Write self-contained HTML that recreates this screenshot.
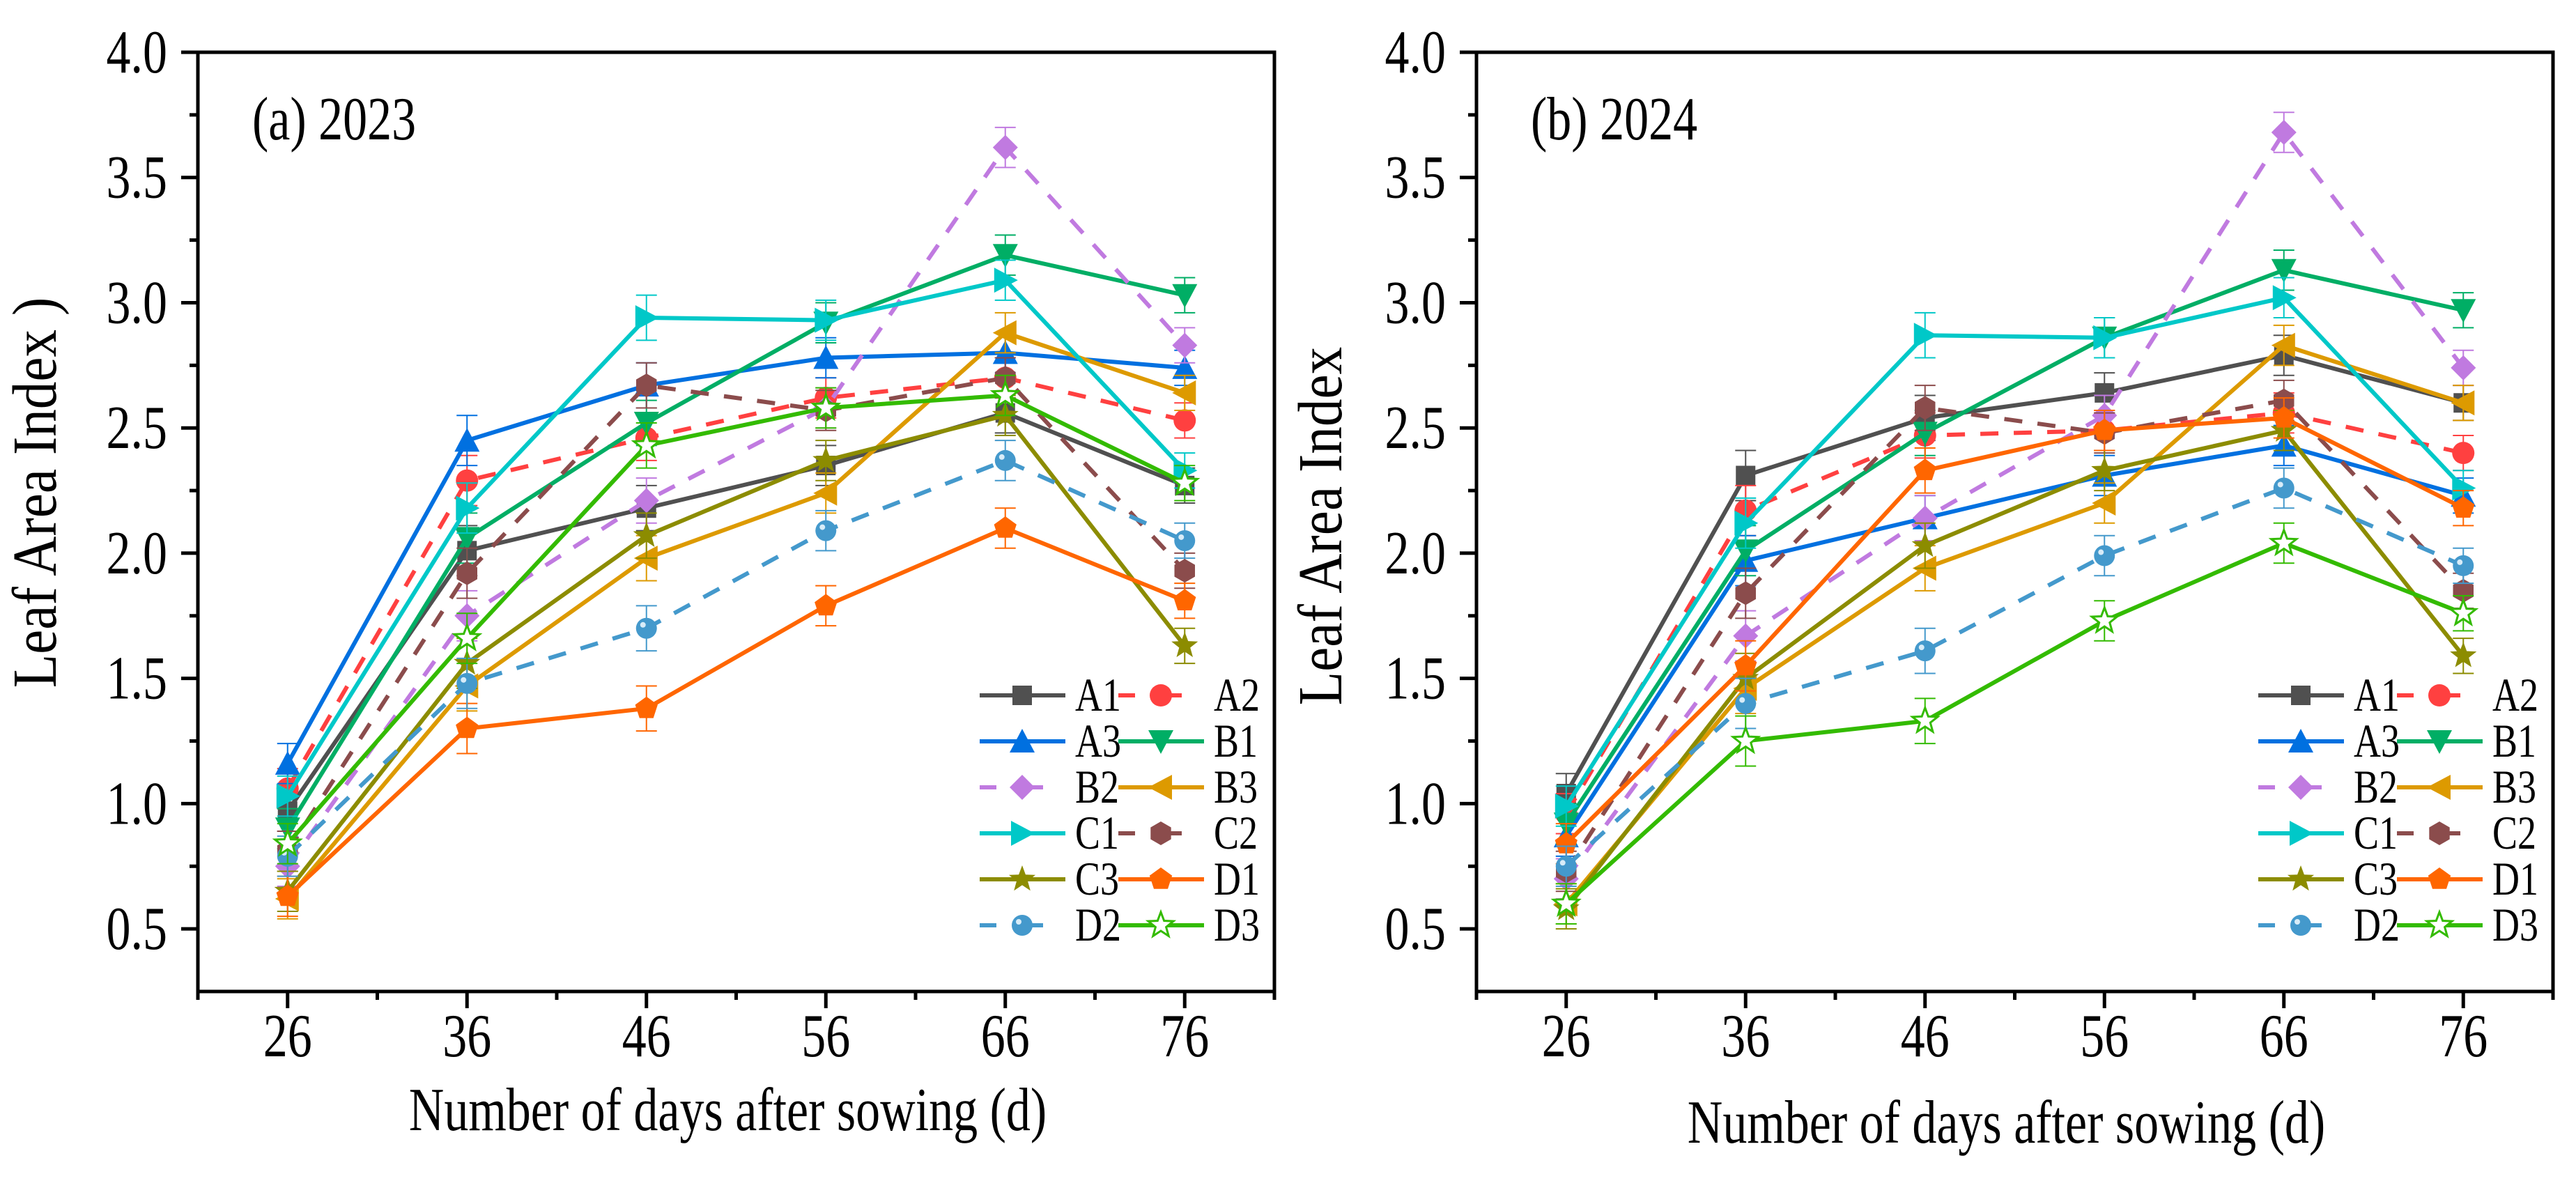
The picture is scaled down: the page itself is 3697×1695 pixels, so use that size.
<!DOCTYPE html>
<html><head><meta charset="utf-8"><style>
html,body{margin:0;padding:0;background:#fff;}
svg{display:block;font-family:"Liberation Serif",serif;}
</style></head><body>
<svg id="chart" width="3697" height="1695" viewBox="0 0 3697 1695" xmlns="http://www.w3.org/2000/svg"></svg>
<script>
const days = [26, 36, 46, 56, 66, 76];
const xTicks = [26, 36, 46, 56, 66, 76];
const yTicks = [0.5, 1.0, 1.5, 2.0, 2.5, 3.0, 3.5, 4.0];
const seriesNames = ["A1","A2","A3","B1","B2","B3","C1","C2","C3","D1","D2","D3"];
// 2023 values
const a_A1 = [0.97, 2.01, 2.18, 2.35, 2.56, 2.27];
const a_A2 = [1.06, 2.29, 2.46, 2.62, 2.70, 2.53];
const a_A3 = [1.16, 2.45, 2.67, 2.78, 2.80, 2.74];
const a_B1 = [0.90, 2.06, 2.52, 2.92, 3.19, 3.03];
const a_B2 = [0.75, 1.75, 2.21, 2.58, 3.62, 2.83];
const a_B3 = [0.62, 1.47, 1.98, 2.24, 2.88, 2.64];
const a_C1 = [1.03, 2.18, 2.94, 2.93, 3.09, 2.33];
const a_C2 = [0.81, 1.92, 2.67, 2.57, 2.70, 1.93];
const a_C3 = [0.65, 1.56, 2.07, 2.37, 2.55, 1.63];
const a_D1 = [0.63, 1.30, 1.38, 1.79, 2.10, 1.81];
const a_D2 = [0.79, 1.48, 1.70, 2.09, 2.37, 2.05];
const a_D3 = [0.84, 1.66, 2.43, 2.58, 2.63, 2.28];
// 2024 values
const b_A1 = [1.04, 2.31, 2.54, 2.64, 2.79, 2.60];
const b_A2 = [0.96, 2.17, 2.47, 2.49, 2.56, 2.40];
const b_A3 = [0.87, 1.97, 2.14, 2.31, 2.43, 2.23];
const b_B1 = [0.92, 2.01, 2.48, 2.86, 3.13, 2.97];
const b_B2 = [0.70, 1.67, 2.14, 2.55, 3.68, 2.74];
const b_B3 = [0.60, 1.46, 1.94, 2.20, 2.83, 2.60];
const b_C1 = [0.99, 2.12, 2.87, 2.86, 3.02, 2.26];
const b_C2 = [0.73, 1.84, 2.58, 2.48, 2.61, 1.85];
const b_C3 = [0.58, 1.50, 2.03, 2.33, 2.49, 1.59];
const b_D1 = [0.84, 1.55, 2.33, 2.49, 2.54, 2.18];
const b_D2 = [0.75, 1.40, 1.61, 1.99, 2.26, 1.95];
const b_D3 = [0.60, 1.25, 1.33, 1.73, 2.04, 1.76];
const errs = [0.08, 0.1, 0.09, 0.08, 0.08, 0.07];

const data2023 = [a_A1,a_A2,a_A3,a_B1,a_B2,a_B3,a_C1,a_C2,a_C3,a_D1,a_D2,a_D3];
const data2024 = [b_A1,b_A2,b_A3,b_B1,b_B2,b_B3,b_C1,b_C2,b_C3,b_D1,b_D2,b_D3];

const styles = [
 {c:"#505050",d:false,m:"square"},{c:"#ff4040",d:true,m:"circle"},
 {c:"#0070e0",d:false,m:"up"},{c:"#00ae65",d:false,m:"down"},
 {c:"#c07ae0",d:true,m:"diamond"},{c:"#dd9a00",d:false,m:"left"},
 {c:"#00c8c8",d:false,m:"right"},{c:"#8b4c4c",d:true,m:"hex"},
 {c:"#8c8c00",d:false,m:"star"},{c:"#ff6600",d:false,m:"pent"},
 {c:"#4499cc",d:true,m:"ball"},{c:"#33bb00",d:false,m:"hstar"}];

const NS="http://www.w3.org/2000/svg";
const svg=document.getElementById('chart');
const SY=1.25;
function mk(tag,attrs,parent){const e=document.createElementNS(NS,tag);for(const k in attrs)e.setAttribute(k,attrs[k]);(parent||svg).appendChild(e);return e;}
function txt(parent,x,y,size,anchor,str){
  const t=mk('text',{x:0,y:0,'font-size':size,'text-anchor':anchor,transform:`translate(${x},${y}) scale(1,${SY})`},parent);
  t.textContent=str;return t;
}

function poly(n,r,rot){let p=[];for(let i=0;i<n;i++){const a=rot+i*2*Math.PI/n;p.push([Math.cos(a)*r,Math.sin(a)*r]);}return p;}
function starPts(r){let p=[];for(let i=0;i<10;i++){const a=-Math.PI/2+i*Math.PI/5;const rr=i%2?r*0.42:r;p.push([Math.cos(a)*rr,Math.sin(a)*rr]);}return p;}
function ptsStr(p,x,y){return p.map(q=>(x+q[0]).toFixed(1)+","+(y+q[1]).toFixed(1)).join(" ");}

function marker(g,type,c,x,y){
  const s=16;
  switch(type){
    case "square": return mk('rect',{x:x-s+2,y:y-s+2,width:2*s-4,height:2*s-4,fill:c},g);
    case "circle": return mk('circle',{cx:x,cy:y,r:s,fill:c},g);
    case "ball": {const e=mk('circle',{cx:x,cy:y,r:s-1,fill:c},g);mk('circle',{cx:x-5,cy:y-5,r:4,fill:"#d8ecf8"},g);return e;}
    case "up": return mk('polygon',{points:ptsStr([[0,-s-2],[s+2,s],[-s-2,s]],x,y),fill:c},g);
    case "down": return mk('polygon',{points:ptsStr([[0,s+2],[s+2,-s],[-s-2,-s]],x,y),fill:c},g);
    case "left": return mk('polygon',{points:ptsStr([[-s-2,0],[s,-s-2],[s,s+2]],x,y),fill:c},g);
    case "right": return mk('polygon',{points:ptsStr([[s+2,0],[-s,-s-2],[-s,s+2]],x,y),fill:c},g);
    case "diamond": return mk('polygon',{points:ptsStr([[0,-s-2],[s+2,0],[0,s+2],[-s-2,0]],x,y),fill:c},g);
    case "hex": return mk('polygon',{points:ptsStr(poly(6,s+1,-Math.PI/2),x,y),fill:c},g);
    case "pent": return mk('polygon',{points:ptsStr(poly(5,s+1,-Math.PI/2),x,y),fill:c},g);
    case "star": return mk('polygon',{points:ptsStr(starPts(s+4),x,y),fill:c},g);
    case "hstar": return mk('polygon',{points:ptsStr(starPts(s+3),x,y),fill:"#fff",stroke:c,'stroke-width':3},g);
  }
}

function panel(ox, data, tag, ylabel, ylabelX, ylabelY, xtitleY){
  const L=ox, R=ox+1545, T=75, B=1423;
  const xs=d=>L+(d-21)*(R-L)/60;
  const ys=v=>B-(v-0.25)*(B-T)/3.75;
  const g=mk('g',{});
  
  
  data.forEach((vals,si)=>{
    const st=styles[si];
    const sg=mk('g',{},g);
    
    
    vals.forEach((v,i)=>{
      const x=xs(days[i]), e=errs[i];
      const eb=mk('path',{d:`M${x},${ys(v+e)}V${ys(v-e)}M${x-15},${ys(v+e)}H${x+15}M${x-15},${ys(v-e)}H${x+15}`,stroke:st.c,'stroke-width':2,fill:'none'},sg);
      
      
    });
    const line=mk('polyline',{points:vals.map((v,i)=>xs(days[i])+","+ys(v)).join(" "),fill:'none',stroke:st.c,'stroke-width':6,'stroke-linejoin':'round'},sg);
    if(st.d) line.setAttribute('stroke-dasharray','26 22');
    
    
    vals.forEach((v,i)=>{
      const m=marker(sg,st.m,st.c,xs(days[i]),ys(v));
      
      
    });
  });
  const fr=mk('rect',{x:L,y:T,width:R-L,height:B-T,fill:'none',stroke:'#000','stroke-width':5},g);
  
  
  xTicks.forEach(t=>{
    const x=xs(t);
    mk('line',{x1:x,y1:B,x2:x,y2:B+24,stroke:'#000','stroke-width':5},g);
    const tx=txt(g,x,1516,70,'middle',String(t));
    
    
  });
  for(let t=21;t<=81;t+=10){const x=xs(t);mk('line',{x1:x,y1:B,x2:x,y2:B+12,stroke:'#000','stroke-width':5},g);}
  yTicks.forEach(t=>{
    const y=ys(t);
    mk('line',{x1:L-24,y1:y,x2:L,y2:y,stroke:'#000','stroke-width':5},g);
    const tx=txt(g,L-44,y+29,70,'end',t.toFixed(1));
    
    
  });
  for(let t=0.75;t<4;t+=0.5){const y=ys(t);mk('line',{x1:L-12,y1:y,x2:L,y2:y,stroke:'#000','stroke-width':5},g);}
  const xt=txt(g,(L+R)/2-12,xtitleY,70,'middle','Number of days after sowing (d)');
  
  
  const yt=mk('text',{x:0,y:0,'font-size':72,'text-anchor':'middle',transform:`translate(${ylabelX},${ylabelY}) rotate(-90) scale(1.1,1.25)`},g);
  yt.textContent=ylabel;
  
  
  const pl=txt(g,L+78,200,70,'start',tag==='2023'?'(a) 2023':'(b) 2024');
  
  
  const lg=mk('g',{},g);
  
  
  seriesNames.forEach((n,si)=>{
    const st=styles[si];
    const col=si%2, row=Math.floor(si/2);
    const x0=L+1122+col*199, y=998+row*66;
    const e=mk('g',{},lg);
    
    
    const ln=mk('line',{x1:x0,y1:y,x2:x0+123,y2:y,stroke:st.c,'stroke-width':6},e);
    if(st.d) ln.setAttribute('stroke-dasharray','24 43');
    marker(e,st.m,st.c,x0+61,y);
    txt(e,x0+137,y+22,54,'start',n);
  });
}
panel(284, data2023, '2023', 'Leaf Area Index )', 80, 707, 1622);
panel(2119, data2024, '2024', 'Leaf Area Index', 1925, 755, 1640);
</script>
</body></html>
